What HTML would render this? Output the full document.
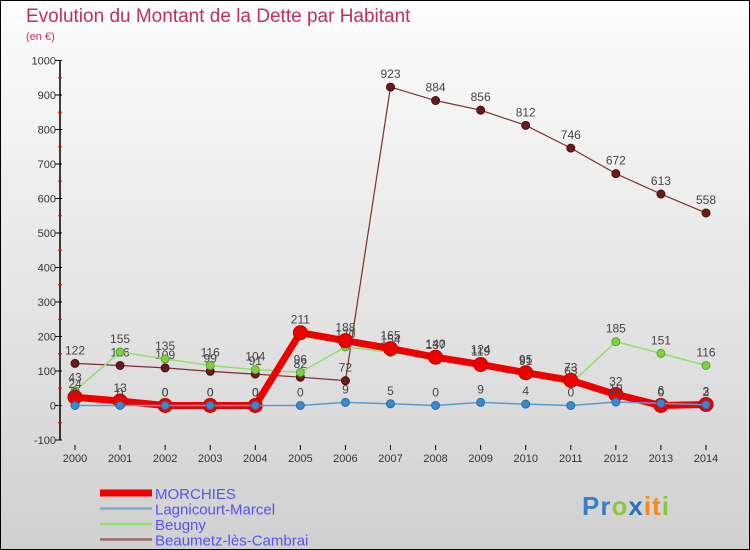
<!DOCTYPE html>
<html><head><meta charset="utf-8">
<style>
html,body{margin:0;padding:0;}
body{width:750px;height:550px;overflow:hidden;font-family:"Liberation Sans",sans-serif;}
svg{display:block;}
</style></head>
<body>
<svg id="chart" width="750" height="550" xmlns="http://www.w3.org/2000/svg">
<defs>
<linearGradient id="bg" x1="0" y1="0" x2="0" y2="1">
<stop offset="0" stop-color="#fdfdfd"/><stop offset="1" stop-color="#d0d0d0"/>
</linearGradient>
</defs>
<rect x="0" y="0" width="750" height="550" fill="url(#bg)" stroke="#000" stroke-width="2"/>
<text x="26" y="22" font-size="19" fill="#c0305a">Evolution du Montant de la Dette par Habitant</text>
<text x="26" y="40" font-size="11" fill="#c0305a">(en €)</text>
<g id="axes"></g>
<g id="series"></g>
<g id="legend"></g>
<text x="582" y="515" font-size="26" font-weight="bold" letter-spacing="1"><tspan fill="#3a7ec8">Pr</tspan><tspan fill="#8cc63f">o</tspan><tspan fill="#2a6fc0">x</tspan><tspan fill="#f08a1c">it</tspan><tspan fill="#8cc63f">i</tspan></text>
</svg>
<script>
const years = [2000,2001,2002,2003,2004,2005,2006,2007,2008,2009,2010,2011,2012,2013,2014];
const yTicks = [-100,0,100,200,300,400,500,600,700,800,900,1000];
const morchies = [24,13,0,0,0,211,188,165,140,119,95,73,32,0,3];
const lagnicourt = [0,0,0,0,0,0,9,5,0,9,4,0,10,6,2];
const beugny = [43,155,135,116,104,96,170,154,137,124,91,63,185,151,116];
const beaumetz = [122,116,109,99,91,82,72,923,884,856,812,746,672,613,558];
const seriesNames = ["MORCHIES","Lagnicourt-Marcel","Beugny","Beaumetz-lès-Cambrai"];

const NS="http://www.w3.org/2000/svg";
function x(i){return 75+i*(706-75)/(years.length-1);}
function y(v){return 405.5-v*0.345;}
function mk(tag,attrs,parent){const e=document.createElementNS(NS,tag);for(const k in attrs)e.setAttribute(k,attrs[k]);parent.appendChild(e);return e;}
const axes=document.getElementById('axes');
const ser=document.getElementById('series');
const leg=document.getElementById('legend');

const yl=mk('line',{x1:60,y1:y(1000),x2:60,y2:y(-100),stroke:'#000','stroke-width':1.5},axes);


yTicks.forEach(t=>{
  mk('line',{x1:55,y1:y(t),x2:62,y2:y(t),stroke:'#000'},axes);
  const tx=mk('text',{x:56,y:y(t)+4,'text-anchor':'end','font-size':11,fill:'#333'},axes);
  tx.textContent=t;
  
  
  if(t<1000) mk('line',{x1:58,y1:y(t+50),x2:62,y2:y(t+50),stroke:'#e00'},axes);
});
years.forEach((yr,i)=>{
  mk('line',{x1:x(i),y1:445,x2:x(i),y2:450,stroke:'#000'},axes);
  const tx=mk('text',{x:x(i),y:462,'text-anchor':'middle','font-size':11,fill:'#333'},axes);
  tx.textContent=yr;
  
  
});

function drawSeries(vals,color,lw,r,dot,dotStroke,name,order){
  const g=mk('g',{},ser);
  
  
  mk('polyline',{points:vals.map((v,i)=>x(i)+','+y(v)).join(' '),fill:'none',stroke:color,'stroke-width':lw,'stroke-linejoin':'round'},g);
  vals.forEach((v,i)=>{
    const c=mk('circle',{cx:x(i),cy:y(v),r:r,fill:dot,stroke:dotStroke,'stroke-width':1},g);
    
    
    const t=mk('text',{x:x(i),y:y(v)-9,'text-anchor':'middle','font-size':12,fill:'#444'},g);
    t.textContent=v;
    
    
  });
}
drawSeries(beaumetz,'#7a3030',1.2,4,'#6b1a1a','#4a1010','beaumetz');
drawSeries(beugny,'#90e070',1.5,4,'#7fd040','#5aa030','beugny');
drawSeries(morchies,'#ee0000',7,7,'#ee0000','#c00000','morchies');
drawSeries(lagnicourt,'#5a9ccc',1.5,4,'#3a8ad0','#2a6aa0','lagnicourt');

const legColors=['#ee0000','#7aaed0','#90e070','#9a6a6a'];
const legW=[7,2.5,2.5,2.5];
seriesNames.forEach((n,i)=>{
  const yy=493+i*15.5;
  const g=mk('g',{},leg);
  
  
  mk('line',{x1:100,y1:yy,x2:152,y2:yy,stroke:legColors[i],'stroke-width':legW[i]},g);
  const t=mk('text',{x:155,y:yy+6,'font-size':15,fill:'#5555ee'},g);
  t.textContent=n;
});
</script>
</body></html>
